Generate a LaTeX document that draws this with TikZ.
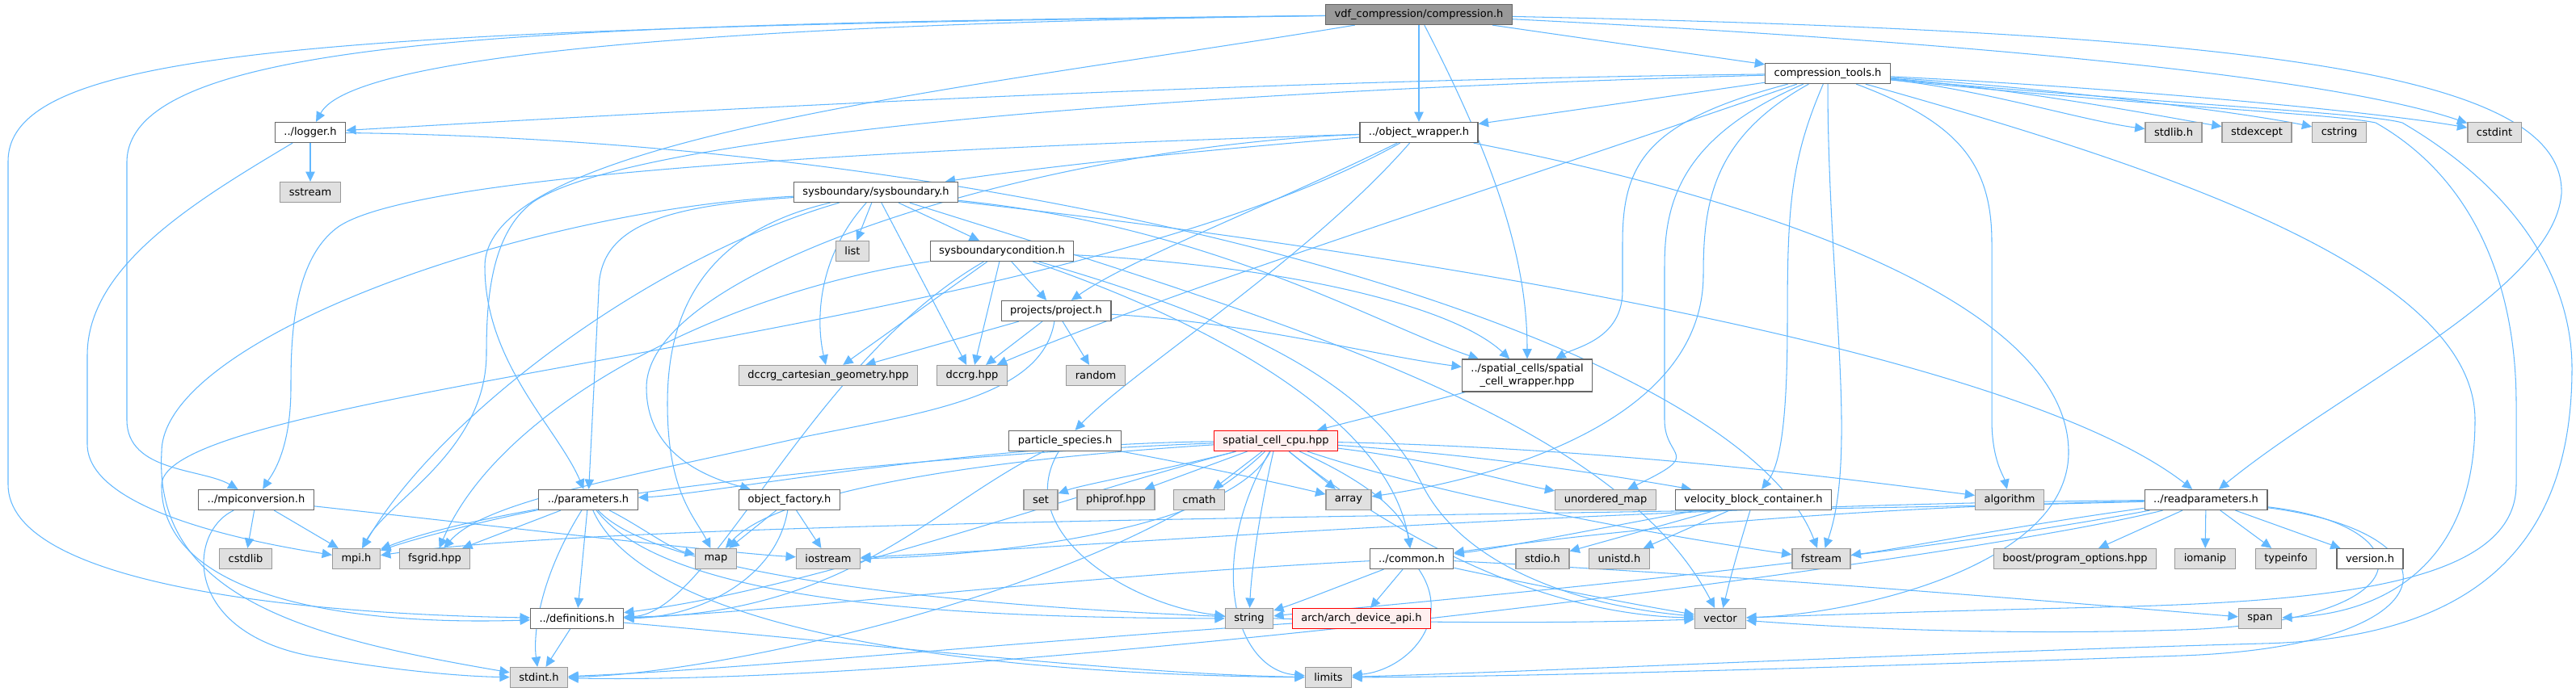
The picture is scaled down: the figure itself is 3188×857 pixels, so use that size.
\documentclass[tikz,border=0pt]{standalone}
\usepackage{fontspec}
\setmainfont{DejaVu Sans}
\usepackage{tikz}
\usetikzlibrary{arrows.meta}

\definecolor{edgeblue}{HTML}{63B8FF}
\definecolor{sysfill}{HTML}{E0E0E0}
\definecolor{sysline}{HTML}{999999}
\definecolor{hdrline}{HTML}{666666}
\definecolor{rootfill}{HTML}{999999}
\definecolor{truncfill}{HTML}{FFF0F0}

\pgfdeclarelayer{edges}
\pgfsetlayers{edges,main}

\tikzset{
  filebox/.style={draw, rectangle, minimum height=0.5cm, inner xsep=0.22cm, inner ysep=0pt, line width=0.7pt, font=\fontsize{7.4}{9}\selectfont},
  hdrbox/.style={filebox, draw=hdrline, fill=white},
  sysbox/.style={filebox, draw=sysline, fill=sysfill},
  truncbox/.style={filebox, draw=red, fill=truncfill},
  rootbox/.style={filebox, draw=hdrline, fill=rootfill},
  inc/.style={draw=edgeblue, line width=0.6pt, -{Triangle[length=7pt,width=6.5pt]}}
}

\begin{document}
\begin{tikzpicture}[x=0.02cm,y=0.02cm]
	\useasboundingbox (0,0) rectangle (3188,-857);
	
	% files, row by row
	\node[rootbox] (comp) at (1756,-18) {vdf\_compression/compression.h};
	\node[hdrbox] (tools) at (2262,-91) {compression\_tools.h};
	
	\node[hdrbox] (logger) at (384,-164) {../logger.h};
	\node[hdrbox] (objw) at (1756,-164) {../object\_wrapper.h};
	\node[sysbox] (stdlibh) at (2690,-164) {stdlib.h};
	\node[sysbox] (stdexcept) at (2793,-164) {stdexcept};
	\node[sysbox] (cstring) at (2895,-164) {cstring};
	\node[sysbox] (cstdint) at (3087,-164) {cstdint};
	
	\node[sysbox] (sstream) at (384,-238) {sstream};
	\node[hdrbox] (sysb) at (1084,-238) {sysboundary/sysboundary.h};
	
	\node[sysbox] (list) at (1055,-311) {list};
	\node[hdrbox] (sysbc) at (1240,-311) {sysboundarycondition.h};
	
	\node[hdrbox] (project) at (1307,-385) {projects/project.h};
	
	\node[sysbox] (dccrggeom) at (1025,-465) {dccrg\_cartesian\_geometry.hpp};
	\node[sysbox] (dccrg) at (1203,-465) {dccrg.hpp};
	\node[sysbox] (random) at (1356,-465) {random};
	\node[hdrbox, align=center, minimum height=0.8cm] (scw) at (1890,-465) {../spatial\_cells/spatial\\\_cell\_wrapper.hpp};
	
	\node[hdrbox] (species) at (1318,-546) {particle\_species.h};
	\node[truncbox] (scc) at (1579,-546) {spatial\_cell\_cpu.hpp};
	
	\node[hdrbox] (mpiconv) at (317,-619) {../mpiconversion.h};
	\node[hdrbox] (params) at (728,-619) {../parameters.h};
	\node[hdrbox] (objf) at (977,-619) {object\_factory.h};
	\node[sysbox] (set) at (1288,-619) {set};
	\node[sysbox] (phiprof) at (1381,-619) {phiprof.hpp};
	\node[sysbox] (cmath) at (1484,-619) {cmath};
	\node[sysbox] (array) at (1669,-619) {array};
	\node[sysbox] (umap) at (1987,-619) {unordered\_map};
	\node[hdrbox] (vbc) at (2170,-619) {velocity\_block\_container.h};
	\node[sysbox] (algorithm) at (2487,-619) {algorithm};
	\node[hdrbox] (readp) at (2730,-619) {../readparameters.h};
	
	\node[sysbox] (cstdlib) at (304,-692) {cstdlib};
	\node[sysbox] (mpih) at (441,-692) {mpi.h};
	\node[sysbox] (fsgrid) at (538,-692) {fsgrid.hpp};
	\node[sysbox] (map) at (886,-692) {map};
	\node[sysbox] (iostream) at (1025,-692) {iostream};
	\node[hdrbox] (common) at (1747,-692) {../common.h};
	\node[sysbox] (stdio) at (1909,-692) {stdio.h};
	\node[sysbox] (unistd) at (2004,-692) {unistd.h};
	\node[sysbox] (fstream) at (2254,-692) {fstream};
	\node[sysbox] (boostpo) at (2568,-692) {boost/program\_options.hpp};
	\node[sysbox] (iomanip) at (2729,-692) {iomanip};
	\node[sysbox] (typeinfo) at (2829,-692) {typeinfo};
	\node[hdrbox] (version) at (2933,-692) {version.h};
	
	\node[hdrbox] (defs) at (714,-766) {../definitions.h};
	\node[sysbox] (string) at (1546,-766) {string};
	\node[truncbox] (arch) at (1685,-766) {arch/arch\_device\_api.h};
	\node[sysbox] (vector) at (2129,-766) {vector};
	\node[sysbox] (span) at (2797,-766) {span};
	
	\node[sysbox] (stdint) at (667,-839) {stdint.h};
	\node[sysbox] (limits) at (1644,-839) {limits};
	
	\begin{pgfonlayer}{edges}
	% compression.h
	\draw[inc] (comp) -- (tools);
	\draw[inc] (comp) -- (objw);
	\draw[inc] (comp) .. controls (1000,-28) and (440,-60) .. (logger);
	\draw[inc] (comp) .. controls (700,-30) and (160,-40) .. (157,-200) -- (157,-520) .. controls (157,-585) and (250,-580) .. (mpiconv);
	\draw[inc] (comp) .. controls (400,-35) and (10,-60) .. (10,-200) -- (10,-600) .. controls (10,-720) and (350,-760) .. (defs);
	\draw[inc] (comp) .. controls (1200,-110) and (600,-170) .. (600,-330) .. controls (600,-450) and (690,-530) .. (params);
	\draw[inc] (comp) .. controls (1850,-200) and (1890,-320) .. (scw);
	\draw[inc] (comp) .. controls (2500,-55) and (2900,-100) .. (cstdint);
	\draw[inc] (comp) .. controls (2800,-40) and (3175,-90) .. (3170,-240) .. controls (3160,-360) and (2900,-480) .. (readp);
	
	% compression_tools.h
	\draw[inc] (tools) .. controls (1500,-100) and (800,-140) .. (logger);
	\draw[inc] (tools) -- (objw);
	\draw[inc] (tools) .. controls (2450,-110) and (2580,-150) .. (stdlibh);
	\draw[inc] (tools) .. controls (2500,-110) and (2680,-145) .. (stdexcept);
	\draw[inc] (tools) .. controls (2550,-110) and (2780,-140) .. (cstring);
	\draw[inc] (tools) .. controls (2650,-110) and (2950,-140) .. (cstdint);
	\draw[inc] (tools) .. controls (2040,-150) and (2008,-200) .. (2008,-300) -- (2008,-360) .. controls (2008,-420) and (1950,-430) .. (scw);
	\draw[inc] (tools) .. controls (2080,-170) and (2060,-250) .. (2060,-330) -- (2060,-520) .. controls (2060,-570) and (2110,-560) .. (umap);
	\draw[inc] (tools) .. controls (2120,-170) and (2108,-250) .. (2108,-340) .. controls (2108,-540) and (1800,-600) .. (array);
	\draw[inc] (tools) .. controls (2215,-200) and (2212,-260) .. (2212,-400) .. controls (2212,-540) and (2200,-580) .. (vbc);
	\draw[inc] (tools) .. controls (2262,-350) and (2300,-560) .. (fstream);
	\draw[inc] (tools) .. controls (2420,-150) and (2465,-200) .. (2465,-300) -- (2465,-520) .. controls (2465,-570) and (2480,-590) .. (algorithm);
	\draw[inc] (tools) .. controls (2700,-135) and (2880,-140) .. (2940,-152) .. controls (3060,-220) and (3114,-350) .. (3114,-500) -- (3114,-600) .. controls (3114,-720) and (2900,-745) .. (2600,-752) .. controls (2350,-758) and (2250,-762) .. (vector);
	\draw[inc] (tools) .. controls (2700,-130) and (2930,-140) .. (2973,-152) .. controls (3140,-250) and (3183,-370) .. (3183,-456) .. controls (3183,-640) and (3100,-790) .. (2800,-797) .. controls (2400,-808) and (1900,-832) .. (limits);
	\draw[inc] (tools) .. controls (2650,-200) and (3063,-330) .. (3063,-520) .. controls (3063,-700) and (2950,-760) .. (span);
	\draw[inc] (tools) .. controls (1800,-250) and (1450,-360) .. (dccrg);
	\draw[inc] (tools) .. controls (1400,-115) and (780,-170) .. (660,-250) .. controls (605,-290) and (602,-380) .. (602,-440) .. controls (600,-560) and (480,-620) .. (mpih);
	
	% logger.h
	\draw[inc] (logger) -- (sstream);
	\draw[inc] (logger) .. controls (240,-250) and (108,-330) .. (108,-440) -- (108,-550) .. controls (108,-630) and (300,-670) .. (mpih);
	\draw[inc] (logger) .. controls (1300,-175) and (2150,-420) .. (fstream);
	
	% object_wrapper.h
	\draw[inc] (objw) .. controls (1500,-185) and (1300,-205) .. (sysb);
	\draw[inc] (objw) .. controls (1560,-260) and (1400,-320) .. (project);
	\draw[inc] (objw) .. controls (1620,-320) and (1400,-460) .. (species);
	\draw[inc] (objw) .. controls (1300,-180) and (800,-330) .. (800,-480) .. controls (800,-560) and (870,-590) .. (objf);
	\draw[inc] (objw) .. controls (1100,-185) and (520,-215) .. (420,-280) .. controls (362,-320) and (360,-420) .. (360,-480) .. controls (360,-560) and (335,-590) .. (mpiconv);
	\draw[inc] (objw) .. controls (1300,-420) and (205,-480) .. (200,-600) .. controls (198,-740) and (430,-775) .. (defs);
	\draw[inc] (objw) .. controls (2200,-250) and (2560,-380) .. (2560,-560) .. controls (2560,-700) and (2300,-760) .. (vector);
	
	% sysboundary.h
	\draw[inc] (sysb) -- (list);
	\draw[inc] (sysb) -- (sysbc);
	\draw[inc] (sysb) .. controls (1010,-320) and (1010,-400) .. (dccrggeom);
	\draw[inc] (sysb) -- (dccrg);
	\draw[inc] (sysb) .. controls (860,-290) and (826,-400) .. (826,-500) .. controls (826,-610) and (860,-640) .. (map);
	\draw[inc] (sysb) .. controls (800,-320) and (540,-520) .. (mpih);
	\draw[inc] (sysb) .. controls (820,-255) and (741,-280) .. (741,-360) -- (params);
	\draw[inc] (sysb) .. controls (650,-260) and (200,-420) .. (200,-560) .. controls (190,-740) and (380,-790) .. (stdint);
	\draw[inc] (sysb) .. controls (1500,-280) and (1700,-400) .. (scw);
	\draw[inc] (sysb) .. controls (1800,-320) and (2500,-440) .. (readp);
	\draw[inc] (sysb) .. controls (1600,-400) and (2000,-520) .. (vector);
	
	% sysboundarycondition.h
	\draw[inc] (sysbc) -- (dccrggeom);
	\draw[inc] (sysbc) -- (dccrg);
	\draw[inc] (sysbc) -- (project);
	\draw[inc] (sysbc) .. controls (1600,-330) and (1800,-380) .. (scw);
	\draw[inc] (sysbc) .. controls (1500,-400) and (1720,-520) .. (common);
	\draw[inc] (sysbc) .. controls (1550,-400) and (1700,-480) .. (1760,-600) .. controls (1810,-700) and (1950,-750) .. (vector);
	\draw[inc] (sysbc) .. controls (900,-360) and (620,-500) .. (fsgrid);
	\draw[inc] (sysbc) .. controls (1000,-450) and (880,-760) .. (defs);
	
	% project.h
	\draw[inc] (project) -- (dccrggeom);
	\draw[inc] (project) -- (dccrg);
	\draw[inc] (project) -- (random);
	\draw[inc] (project) .. controls (1550,-400) and (1700,-440) .. (scw);
	\draw[inc] (project) .. controls (1290,-490) and (1150,-510) .. (1000,-540) .. controls (780,-590) and (600,-620) .. (fsgrid);
	
	% spatial_cell_wrapper.hpp, particle_species.h, object_factory.h
	\draw[inc] (scw) .. controls (1760,-500) and (1680,-520) .. (scc);
	\draw[inc] (species) .. controls (1150,-630) and (1050,-760) .. (defs);
	\draw[inc] (species) .. controls (1250,-660) and (1400,-750) .. (string);
	\draw[inc] (species) .. controls (1500,-580) and (1590,-600) .. (array);
	\draw[inc] (objf) -- (map);
	\draw[inc] (objf) -- (iostream);
	\draw[inc] (objf) .. controls (960,-720) and (860,-765) .. (defs);
	
	% spatial_cell_cpu.hpp
	\draw[inc] (scc) .. controls (1450,-580) and (1340,-600) .. (set);
	\draw[inc] (scc) -- (phiprof);
	\draw[inc] (scc) -- (cmath);
	\draw[inc] (scc) -- (array);
	\draw[inc] (scc) .. controls (1780,-570) and (1880,-600) .. (umap);
	\draw[inc] (scc) .. controls (1850,-565) and (2000,-590) .. (vbc);
	\draw[inc] (scc) .. controls (2000,-555) and (2300,-595) .. (algorithm);
	\draw[inc] (scc) .. controls (1800,-620) and (2100,-670) .. (fstream);
	\draw[inc] (scc) .. controls (1700,-600) and (1740,-640) .. (common);
	\draw[inc] (scc) .. controls (1520,-660) and (1200,-690) .. (iostream);
	\draw[inc] (scc) .. controls (1200,-560) and (650,-610) .. (mpih);
	\draw[inc] (scc) .. controls (1200,-570) and (960,-610) .. (map);
	\draw[inc] (scc) .. controls (1200,-550) and (880,-612) .. (params);
	\draw[inc] (scc) .. controls (1300,-620) and (1000,-730) .. (defs);
	\draw[inc] (scc) .. controls (1400,-720) and (900,-835) .. (stdint);
	\draw[inc] (scc) .. controls (1490,-700) and (1530,-830) .. (limits);
	\draw[inc] (scc) .. controls (1555,-650) and (1548,-720) .. (string);
	\draw[inc] (scc) .. controls (1720,-660) and (1900,-760) .. (vector);
	
	% velocity_block_container.h
	\draw[inc] (vbc) .. controls (1950,-660) and (1850,-680) .. (common);
	\draw[inc] (vbc) -- (stdio);
	\draw[inc] (vbc) -- (unistd);
	\draw[inc] (vbc) .. controls (2145,-700) and (2138,-730) .. (vector);
	
	% common.h, arch_device_api.h
	\draw[inc] (common) .. controls (1300,-715) and (950,-760) .. (defs);
	\draw[inc] (common) -- (arch);
	\draw[inc] (common) .. controls (1800,-770) and (1740,-830) .. (limits);
	\draw[inc] (common) .. controls (1900,-725) and (2040,-752) .. (vector);
	\draw[inc] (common) .. controls (2200,-715) and (2600,-750) .. (span);
	\draw[inc] (common) .. controls (1660,-725) and (1610,-745) .. (string);
	\draw[inc] (arch) .. controls (1200,-800) and (900,-830) .. (stdint);
	
	% parameters.h
	\draw[inc] (params) .. controls (600,-645) and (520,-665) .. (mpih);
	\draw[inc] (params) -- (fsgrid);
	\draw[inc] (params) .. controls (665,-720) and (660,-790) .. (stdint);
	\draw[inc] (params) -- (defs);
	\draw[inc] (params) .. controls (790,-650) and (830,-680) .. (map);
	\draw[inc] (params) .. controls (830,-750) and (1200,-765) .. (string);
	\draw[inc] (params) .. controls (860,-760) and (1700,-780) .. (vector);
	\draw[inc] (params) .. controls (800,-780) and (1200,-835) .. (limits);
	
	% mpiconversion.h, definitions.h
	\draw[inc] (mpiconv) -- (cstdlib);
	\draw[inc] (mpiconv) -- (mpih);
	\draw[inc] (mpiconv) .. controls (230,-660) and (225,-790) .. (400,-815) .. controls (500,-832) and (580,-838) .. (stdint);
	\draw[inc] (mpiconv) .. controls (600,-650) and (900,-685) .. (iostream);
	\draw[inc] (defs) -- (stdint);
	\draw[inc] (defs) .. controls (1100,-800) and (1400,-835) .. (limits);
	
	% readparameters.h
	\draw[inc] (readp) -- (boostpo);
	\draw[inc] (readp) -- (iomanip);
	\draw[inc] (readp) -- (typeinfo);
	\draw[inc] (readp) -- (version);
	\draw[inc] (readp) .. controls (2000,-625) and (1300,-680) .. (iostream);
	\draw[inc] (readp) .. controls (2000,-640) and (800,-640) .. (mpih);
	\draw[inc] (readp) .. controls (2500,-650) and (2350,-680) .. (fstream);
	\draw[inc] (readp) .. controls (3000,-650) and (3010,-770) .. (2700,-780) .. controls (2450,-788) and (2250,-775) .. (vector);
	\draw[inc] (readp) .. controls (3050,-660) and (3040,-800) .. (2700,-812) .. controls (2300,-826) and (1900,-838) .. (limits);
	\draw[inc] (readp) .. controls (2400,-700) and (1200,-850) .. (stdint);
	\draw[inc] (readp) .. controls (2300,-700) and (1700,-750) .. (string);
	\draw[inc] (readp) .. controls (2200,-630) and (1900,-670) .. (common);
	\end{pgfonlayer}
\end{tikzpicture}
\end{document}
